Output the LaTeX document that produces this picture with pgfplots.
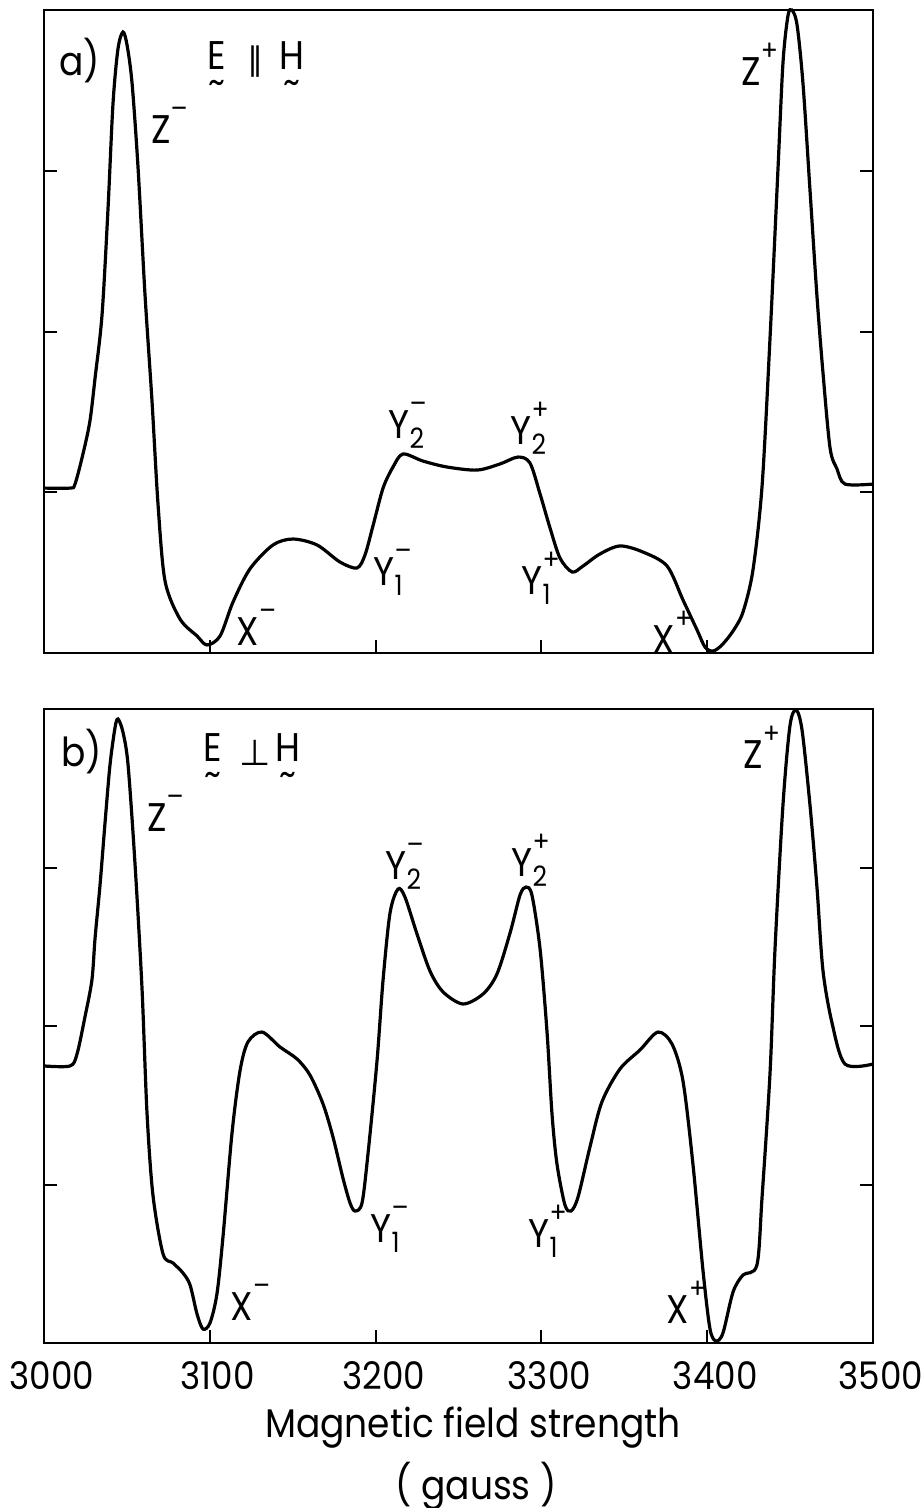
\documentclass[border=0pt]{standalone}
\usepackage{pgfplots}
\pgfplotsset{compat=1.18}
\usepackage{fontspec}
\setmainfont{Poppins}[FakeStretch=0.9]
\newfontfamily\sym{DejaVu Sans}

% peak label: letter with superscript sign and optional subscript index
\newcommand\pk[3]{#1\rlap{\raisebox{0.62em}{\fontsize{7}{7}\selectfont#2}}\rlap{\raisebox{-0.25em}{\fontsize{7}{7}\selectfont#3}}}

\pgfplotsset{
  spec/.style={
    scale only axis,
    width=207.25pt,
    xmin=3000, xmax=3500,
    ymin=0, ymax=4,
    xtick={3000,3100,3200,3300,3400,3500},
    ytick={1,2,3},
    yticklabels={},
    tick align=inside,
    xtick pos=bottom,
    ytick pos=both,
    major tick length=3.25pt,
    axis line style={line width=0.5pt},
    every tick/.style={black, line width=0.5pt},
    tick label style={font=\fontsize{9.5}{11}\selectfont},
    clip=false,
  },
  trace/.style={black, line width=0.8pt, smooth, tension=0.5},
}

\begin{document}
\begin{tikzpicture}
\useasboundingbox (0,0) rectangle (230.5pt,-377pt);

% a) E parallel H
\begin{axis}[spec, at={(11pt,-163.25pt)}, anchor=south west,
    height=160.75pt, xticklabels={}]
\addplot[trace] coordinates {
 (3000.0,1.026) (3015.7,1.026) (3018.7,1.051) (3023.5,1.238) (3027.7,1.443)
 (3030.8,1.711) (3035.0,2.103) (3038.6,2.762) (3041.6,3.415) (3044.6,3.757)
 (3047.6,3.863) (3050.1,3.782) (3053.1,3.546) (3056.7,3.023) (3060.9,2.233)
 (3065.1,1.574) (3068.8,0.921) (3073.0,0.448) (3082.0,0.212) (3092.3,0.106)
 (3098.3,0.050) (3106.2,0.106) (3114.0,0.317) (3124.2,0.523) (3138.1,0.672)
 (3150.2,0.709) (3164.7,0.672) (3178.5,0.566) (3188.8,0.529) (3193.6,0.610)
 (3198.4,0.790) (3204.5,1.026) (3210.5,1.157) (3216.5,1.238) (3228.6,1.194)
 (3243.1,1.157) (3261.2,1.138) (3275.0,1.176) (3285.9,1.219) (3293.1,1.182)
 (3299.2,0.989) (3305.2,0.778) (3311.2,0.591) (3318.5,0.504) (3325.1,0.541)
 (3335.3,0.616) (3347.4,0.666) (3361.3,0.628) (3375.8,0.541) (3385.4,0.330)
 (3393.9,0.143) (3398.7,0.037) (3403.5,0.012) (3408.9,0.050) (3415.6,0.137)
 (3421.6,0.255) (3427.6,0.516) (3433.1,1.039) (3437.9,1.960) (3442.7,3.011)
 (3445.7,3.670) (3448.7,3.963) (3451.1,4.000) (3454.2,3.907) (3457.8,3.540)
 (3462.0,2.880) (3466.2,2.221) (3469.8,1.748) (3474.1,1.275) (3478.3,1.145)
 (3483.1,1.051) (3500.0,1.051)
};
\end{axis}

% b) E perpendicular H
\begin{axis}[spec, at={(11pt,-335.75pt)}, anchor=south west,
    height=158.5pt,
    xticklabels={3000,3100,3200,3300,3400,3500},
    xticklabel style={xshift=2pt, yshift=-1pt}]
\addplot[trace] coordinates {
 (3000.0,1.748) (3015.7,1.748) (3019.9,1.823) (3024.7,2.057) (3028.9,2.290)
 (3030.8,2.555) (3033.8,2.890) (3036.8,3.281) (3039.8,3.647) (3042.8,3.880)
 (3044.6,3.937) (3047.6,3.855) (3050.7,3.647) (3054.9,3.022) (3059.1,2.240)
 (3062.1,1.457) (3065.7,0.934) (3071.8,0.562) (3077.8,0.505) (3083.8,0.442)
 (3088.1,0.366) (3092.3,0.183) (3095.9,0.088) (3100.1,0.126) (3104.3,0.309)
 (3108.0,0.675) (3113.4,1.325) (3118.2,1.716) (3123.0,1.899) (3131.5,1.962)
 (3142.3,1.868) (3152.6,1.792) (3160.4,1.691) (3168.3,1.508) (3174.3,1.300)
 (3180.3,1.041) (3184.6,0.883) (3187.6,0.833) (3191.8,0.883) (3195.4,1.192)
 (3200.8,1.773) (3204.5,2.290) (3208.7,2.713) (3213.5,2.864) (3217.7,2.814)
 (3225.0,2.580) (3232.8,2.347) (3240.7,2.215) (3252.7,2.139)
 (3264.8,2.202) (3273.2,2.328) (3281.1,2.587) (3287.1,2.826) (3290.7,2.877)
 (3294.3,2.826) (3299.2,2.486) (3303.4,1.962) (3306.4,1.445) (3309.4,1.129)
 (3314.2,0.871) (3317.9,0.833) (3322.1,0.921) (3329.3,1.237) (3336.5,1.521)
 (3347.4,1.729) (3359.5,1.849) (3370.3,1.962) (3378.8,1.886) (3385.4,1.653)
 (3391.4,1.129) (3397.5,0.454) (3401.7,0.088) (3405.3,0.013) (3409.5,0.063)
 (3415.6,0.322) (3421.6,0.429) (3430.0,0.492) (3433.1,0.921) (3437.9,1.703)
 (3440.9,2.486) (3445.7,3.394) (3449.9,3.893) (3453.6,3.994) (3457.2,3.868)
 (3462.0,3.394) (3466.2,2.877) (3469.8,2.353) (3475.3,2.019) (3483.1,1.760)
 (3500.0,1.760)
};
\end{axis}

% labels, placed in reference pixel units
\begin{scope}[x=0.25pt, y=-0.25pt, every node/.style={inner sep=0pt, font=\fontsize{10}{12}\selectfont},
    tl/.style={anchor=north, font=\fontsize{9}{9}\selectfont}]
\node at (80,61) {a)};
\node at (217,56) {E};
\node[tl] at (217,80) {\textasciitilde};
\node at (255,62) {\sym\fontsize{8}{8}\selectfont ∥};
\node at (292,56) {H};
\node[tl] at (292,80) {\textasciitilde};
\node at (161,130) {\pk{Z}{--}{}};
\node at (248,632) {\pk{X}{--}{}};
\node at (384,572) {\pk{Y}{--}{1}};
\node at (399,425) {\pk{Y}{--}{2}};
\node at (521,428) {\pk{Y}{+}{2}};
\node at (532,578) {\pk{Y}{+}{1}};
\node at (664,637) {\pk{X}{+}{}};
\node at (751,69) {\pk{Z}{+}{}};

\node at (82,752) {b)};
\node at (213,748) {E};
\node[tl] at (213,772) {\textasciitilde};
\node at (255,753) {\sym\fontsize{9}{9}\selectfont ⊥};
\node at (288,748) {H};
\node[tl] at (288,772) {\textasciitilde};
\node at (157,818) {\pk{Z}{--}{}};
\node at (396,866) {\pk{Y}{--}{2}};
\node at (381,1229) {\pk{Y}{--}{1}};
\node at (242,1307) {\pk{X}{--}{}};
\node at (522,860) {\pk{Y}{+}{2}};
\node at (539,1231) {\pk{Y}{+}{1}};
\node at (678,1307) {\pk{X}{+}{}};
\node at (753,752) {\pk{Z}{+}{}};

\node at (473,1428) {Magnetic field strength};
\node at (476,1486) {( gauss )};
\end{scope}
\end{tikzpicture}
\end{document}
